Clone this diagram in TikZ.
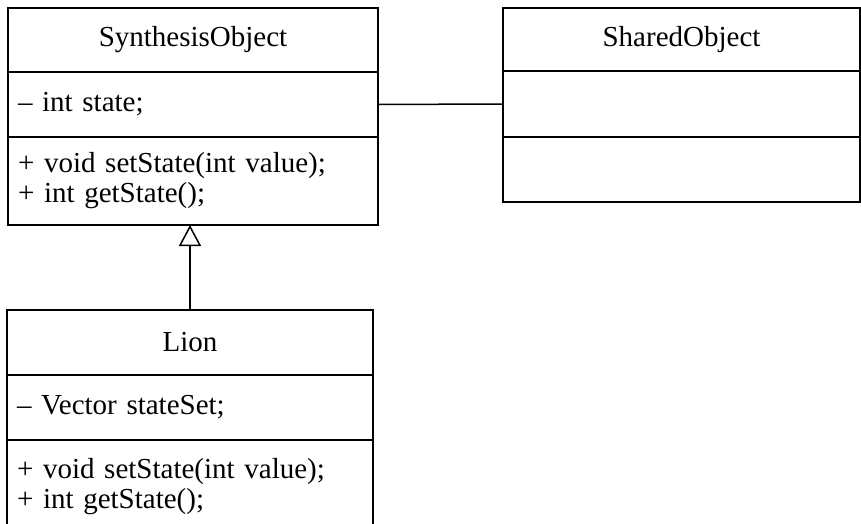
\documentclass[tikz,border=0pt]{standalone}
\usepackage{fontspec}
\setmainfont{Liberation Serif}
\usetikzlibrary{positioning}
\usetikzlibrary{arrows.meta}

\begin{document}
\begin{tikzpicture}[
    x=1pt, y=-1pt,
    line width=1.5pt,
    classname/.style={draw,outer sep=0pt,align=center,font=\fontsize{29}{30}\selectfont},
    compart/.style={draw,outer sep=0pt,inner xsep=10pt,align=left,font=\fontsize{29}{30}\selectfont}
    ]
    \clip (0,0) rectangle (861,524);

    \node[classname, minimum width=370, minimum height=64, anchor=north west] (synth) at (8,8) {SynthesisObject};
    \node[compart, text width=350, minimum height=65, below=0pt of synth] (synthattr) {\textendash\ int state;};
    \node[compart, text width=350, minimum height=88, below=0pt of synthattr] (synthops) {+ void setState(int value);\\+ int getState();};

    \node[classname, minimum width=357, minimum height=63, anchor=north west] (shared) at (503,8) {SharedObject};
    \node[compart, text width=337, minimum height=66, below=0pt of shared] (sharedattr) {};
    \node[compart, text width=337, minimum height=65, below=0pt of sharedattr] (sharedops) {};

    \node[classname, minimum width=366, minimum height=65, anchor=north west] (lion) at (7,310) {Lion};
    \node[compart, text width=346, minimum height=65, below=0pt of lion] (lionattr) {\textendash\ Vector stateSet;};
    \node[compart, text width=346, minimum height=94, below=0pt of lionattr] (lionops) {+ void setState(int value);\\+ int getState();};

    \path (synthattr) edge (sharedattr)
    (lion.north) edge[-{Triangle[open,width=22pt,length=21pt]}] (lion.north |- synthops.south)
    ;

  \end{tikzpicture}
\end{document}
